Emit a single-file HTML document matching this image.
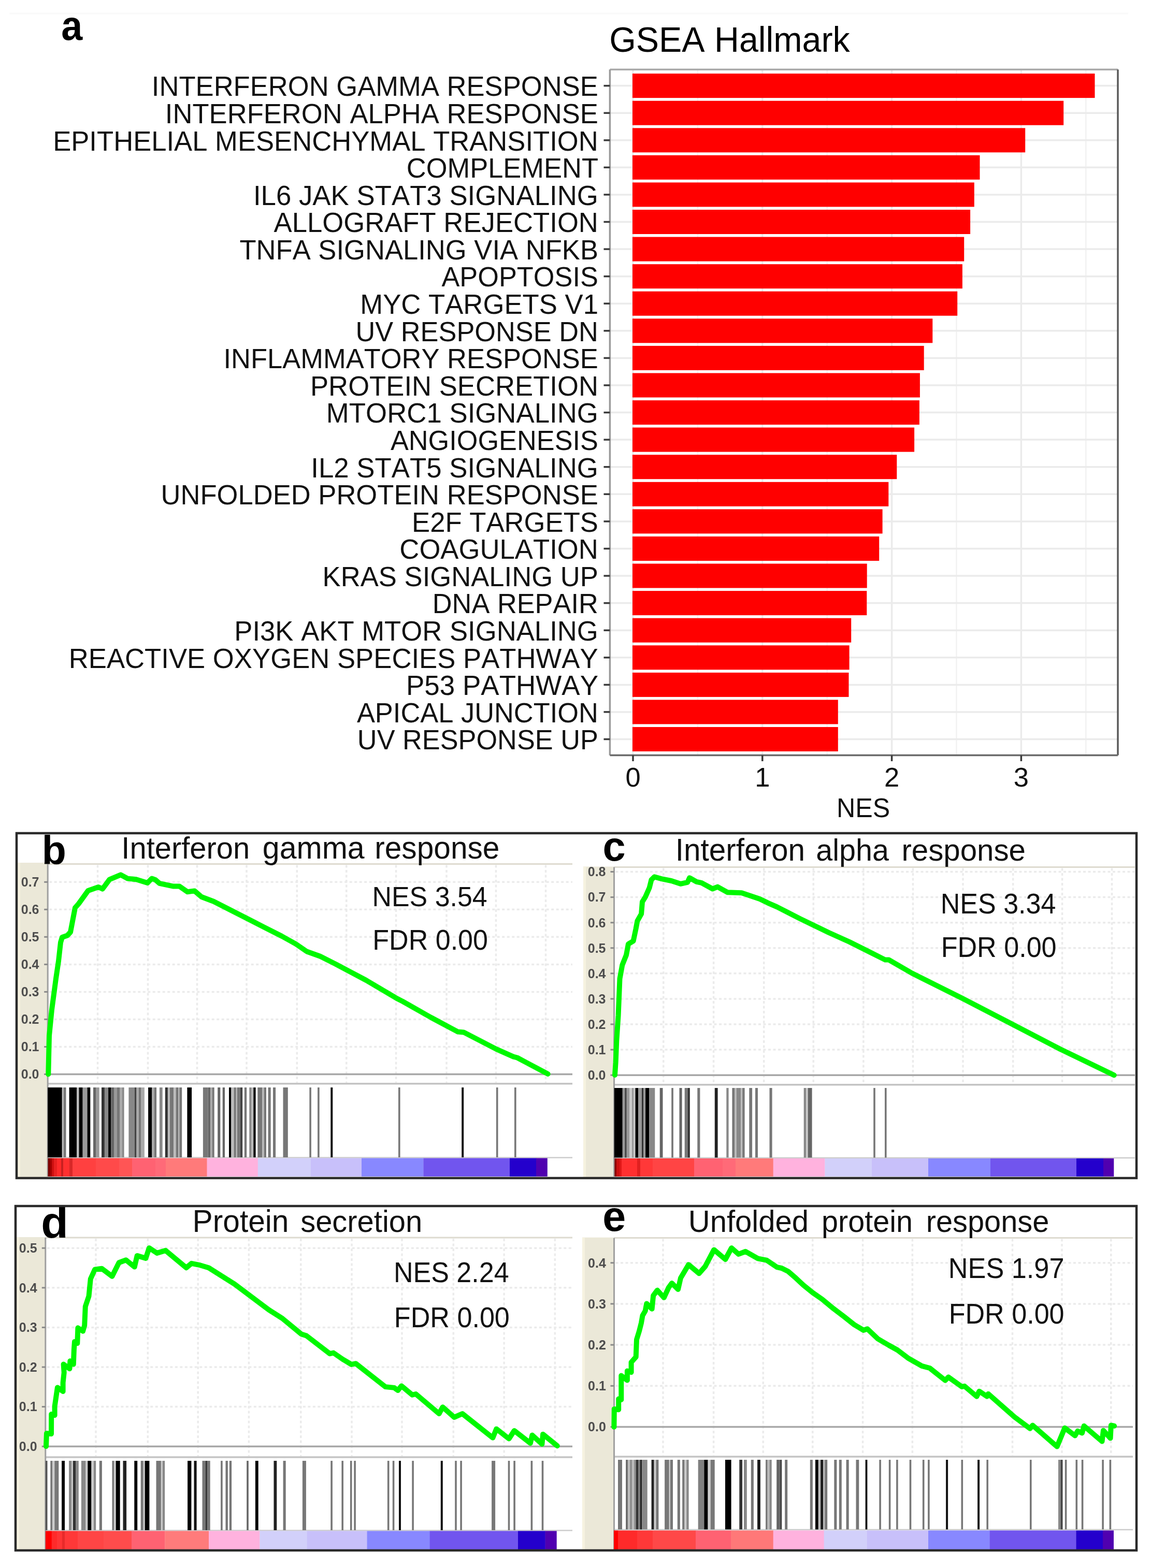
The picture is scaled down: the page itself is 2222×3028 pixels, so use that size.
<!DOCTYPE html>
<html><head><meta charset="utf-8"><title>GSEA Hallmark</title>
<style>
html,body{margin:0;padding:0;background:#fff;}
body{width:2222px;height:3028px;overflow:hidden;}
svg{display:block;font-family:'Liberation Sans', Arial, sans-serif;font-kerning:none;}
</style></head><body>
<svg width="2222" height="3028" viewBox="0 0 2222 3028">
<rect x="0" y="0" width="2222" height="3028" fill="#ffffff"/>
<rect x="18" y="24.5" width="2160" height="3.5" fill="#fafafa"/>
<line x1="1346.9" y1="134.2" x2="1346.9" y2="1458.6" stroke="#f2f2f2" stroke-width="2.5"/>
<line x1="1596.7" y1="134.2" x2="1596.7" y2="1458.6" stroke="#f2f2f2" stroke-width="2.5"/>
<line x1="1846.5" y1="134.2" x2="1846.5" y2="1458.6" stroke="#f2f2f2" stroke-width="2.5"/>
<line x1="2096.3" y1="134.2" x2="2096.3" y2="1458.6" stroke="#f2f2f2" stroke-width="2.5"/>
<line x1="1222.0" y1="134.2" x2="1222.0" y2="1458.6" stroke="#ebebeb" stroke-width="3.5"/>
<line x1="1471.8" y1="134.2" x2="1471.8" y2="1458.6" stroke="#ebebeb" stroke-width="3.5"/>
<line x1="1721.6" y1="134.2" x2="1721.6" y2="1458.6" stroke="#ebebeb" stroke-width="3.5"/>
<line x1="1971.4" y1="134.2" x2="1971.4" y2="1458.6" stroke="#ebebeb" stroke-width="3.5"/>
<line x1="1177.4" y1="165.6" x2="2158.0" y2="165.6" stroke="#ebebeb" stroke-width="3.5"/>
<line x1="1177.4" y1="218.2" x2="2158.0" y2="218.2" stroke="#ebebeb" stroke-width="3.5"/>
<line x1="1177.4" y1="270.8" x2="2158.0" y2="270.8" stroke="#ebebeb" stroke-width="3.5"/>
<line x1="1177.4" y1="323.3" x2="2158.0" y2="323.3" stroke="#ebebeb" stroke-width="3.5"/>
<line x1="1177.4" y1="375.9" x2="2158.0" y2="375.9" stroke="#ebebeb" stroke-width="3.5"/>
<line x1="1177.4" y1="428.5" x2="2158.0" y2="428.5" stroke="#ebebeb" stroke-width="3.5"/>
<line x1="1177.4" y1="481.1" x2="2158.0" y2="481.1" stroke="#ebebeb" stroke-width="3.5"/>
<line x1="1177.4" y1="533.7" x2="2158.0" y2="533.7" stroke="#ebebeb" stroke-width="3.5"/>
<line x1="1177.4" y1="586.2" x2="2158.0" y2="586.2" stroke="#ebebeb" stroke-width="3.5"/>
<line x1="1177.4" y1="638.8" x2="2158.0" y2="638.8" stroke="#ebebeb" stroke-width="3.5"/>
<line x1="1177.4" y1="691.4" x2="2158.0" y2="691.4" stroke="#ebebeb" stroke-width="3.5"/>
<line x1="1177.4" y1="744.0" x2="2158.0" y2="744.0" stroke="#ebebeb" stroke-width="3.5"/>
<line x1="1177.4" y1="796.6" x2="2158.0" y2="796.6" stroke="#ebebeb" stroke-width="3.5"/>
<line x1="1177.4" y1="849.1" x2="2158.0" y2="849.1" stroke="#ebebeb" stroke-width="3.5"/>
<line x1="1177.4" y1="901.7" x2="2158.0" y2="901.7" stroke="#ebebeb" stroke-width="3.5"/>
<line x1="1177.4" y1="954.3" x2="2158.0" y2="954.3" stroke="#ebebeb" stroke-width="3.5"/>
<line x1="1177.4" y1="1006.9" x2="2158.0" y2="1006.9" stroke="#ebebeb" stroke-width="3.5"/>
<line x1="1177.4" y1="1059.5" x2="2158.0" y2="1059.5" stroke="#ebebeb" stroke-width="3.5"/>
<line x1="1177.4" y1="1112.0" x2="2158.0" y2="1112.0" stroke="#ebebeb" stroke-width="3.5"/>
<line x1="1177.4" y1="1164.6" x2="2158.0" y2="1164.6" stroke="#ebebeb" stroke-width="3.5"/>
<line x1="1177.4" y1="1217.2" x2="2158.0" y2="1217.2" stroke="#ebebeb" stroke-width="3.5"/>
<line x1="1177.4" y1="1269.8" x2="2158.0" y2="1269.8" stroke="#ebebeb" stroke-width="3.5"/>
<line x1="1177.4" y1="1322.4" x2="2158.0" y2="1322.4" stroke="#ebebeb" stroke-width="3.5"/>
<line x1="1177.4" y1="1374.9" x2="2158.0" y2="1374.9" stroke="#ebebeb" stroke-width="3.5"/>
<line x1="1177.4" y1="1427.5" x2="2158.0" y2="1427.5" stroke="#ebebeb" stroke-width="3.5"/>
<rect x="1221" y="142.1" width="892.5" height="47.0" fill="#ff0000"/>
<rect x="1221" y="194.7" width="832.2" height="47.0" fill="#ff0000"/>
<rect x="1221" y="247.3" width="758.2" height="47.0" fill="#ff0000"/>
<rect x="1221" y="299.8" width="670.5" height="47.0" fill="#ff0000"/>
<rect x="1221" y="352.4" width="659.8" height="47.0" fill="#ff0000"/>
<rect x="1221" y="405.0" width="652.1" height="47.0" fill="#ff0000"/>
<rect x="1221" y="457.6" width="640.2" height="47.0" fill="#ff0000"/>
<rect x="1221" y="510.2" width="636.9" height="47.0" fill="#ff0000"/>
<rect x="1221" y="562.7" width="627.2" height="47.0" fill="#ff0000"/>
<rect x="1221" y="615.3" width="579.3" height="47.0" fill="#ff0000"/>
<rect x="1221" y="667.9" width="562.7" height="47.0" fill="#ff0000"/>
<rect x="1221" y="720.5" width="554.9" height="47.0" fill="#ff0000"/>
<rect x="1221" y="773.1" width="553.9" height="47.0" fill="#ff0000"/>
<rect x="1221" y="825.6" width="544.1" height="47.0" fill="#ff0000"/>
<rect x="1221" y="878.2" width="510.3" height="47.0" fill="#ff0000"/>
<rect x="1221" y="930.8" width="494.3" height="47.0" fill="#ff0000"/>
<rect x="1221" y="983.4" width="482.6" height="47.0" fill="#ff0000"/>
<rect x="1221" y="1036.0" width="476.2" height="47.0" fill="#ff0000"/>
<rect x="1221" y="1088.5" width="452.7" height="47.0" fill="#ff0000"/>
<rect x="1221" y="1141.1" width="452.3" height="47.0" fill="#ff0000"/>
<rect x="1221" y="1193.7" width="422.2" height="47.0" fill="#ff0000"/>
<rect x="1221" y="1246.3" width="418.6" height="47.0" fill="#ff0000"/>
<rect x="1221" y="1298.9" width="417.5" height="47.0" fill="#ff0000"/>
<rect x="1221" y="1351.4" width="396.8" height="47.0" fill="#ff0000"/>
<rect x="1221" y="1404.0" width="396.8" height="47.0" fill="#ff0000"/>
<line x1="1177.4" y1="134.2" x2="2158.0" y2="134.2" stroke="#aaaaaa" stroke-width="3.5"/>
<line x1="1177.4" y1="134.2" x2="1177.4" y2="1458.6" stroke="#9a9a9a" stroke-width="3.5"/>
<line x1="2158.0" y1="134.2" x2="2158.0" y2="1458.6" stroke="#5a5a5a" stroke-width="3.5"/>
<line x1="1177.4" y1="1458.6" x2="2158.0" y2="1458.6" stroke="#6a6a6a" stroke-width="3.5"/>
<line x1="1165.5" y1="165.6" x2="1177.4" y2="165.6" stroke="#3a3a3a" stroke-width="3.5"/>
<text transform="translate(292.85,185.40) scale(0.9756,1)" font-size="53.92" fill="#111">INTERFERON GAMMA RESPONSE</text>
<line x1="1165.5" y1="218.2" x2="1177.4" y2="218.2" stroke="#3a3a3a" stroke-width="3.5"/>
<text transform="translate(318.84,237.98) scale(0.9756,1)" font-size="53.93" fill="#111">INTERFERON ALPHA RESPONSE</text>
<line x1="1165.5" y1="270.8" x2="1177.4" y2="270.8" stroke="#3a3a3a" stroke-width="3.5"/>
<text transform="translate(102.18,290.56) scale(0.9756,1)" font-size="53.95" fill="#111">EPITHELIAL MESENCHYMAL TRANSITION</text>
<line x1="1165.5" y1="323.3" x2="1177.4" y2="323.3" stroke="#3a3a3a" stroke-width="3.5"/>
<text transform="translate(784.74,343.14) scale(0.9756,1)" font-size="53.79" fill="#111">COMPLEMENT</text>
<line x1="1165.5" y1="375.9" x2="1177.4" y2="375.9" stroke="#3a3a3a" stroke-width="3.5"/>
<text transform="translate(488.93,395.72) scale(0.9756,1)" font-size="54.12" fill="#111">IL6 JAK STAT3 SIGNALING</text>
<line x1="1165.5" y1="428.5" x2="1177.4" y2="428.5" stroke="#3a3a3a" stroke-width="3.5"/>
<text transform="translate(528.50,448.30) scale(0.9756,1)" font-size="54.01" fill="#111">ALLOGRAFT REJECTION</text>
<line x1="1165.5" y1="481.1" x2="1177.4" y2="481.1" stroke="#3a3a3a" stroke-width="3.5"/>
<text transform="translate(462.42,500.88) scale(0.9756,1)" font-size="53.91" fill="#111">TNFA SIGNALING VIA NFKB</text>
<line x1="1165.5" y1="533.7" x2="1177.4" y2="533.7" stroke="#3a3a3a" stroke-width="3.5"/>
<text transform="translate(852.40,553.46) scale(0.9756,1)" font-size="53.67" fill="#111">APOPTOSIS</text>
<line x1="1165.5" y1="586.2" x2="1177.4" y2="586.2" stroke="#3a3a3a" stroke-width="3.5"/>
<text transform="translate(695.28,606.04) scale(0.9756,1)" font-size="54.02" fill="#111">MYC TARGETS V1</text>
<line x1="1165.5" y1="638.8" x2="1177.4" y2="638.8" stroke="#3a3a3a" stroke-width="3.5"/>
<text transform="translate(686.56,658.62) scale(0.9756,1)" font-size="53.67" fill="#111">UV RESPONSE DN</text>
<line x1="1165.5" y1="691.4" x2="1177.4" y2="691.4" stroke="#3a3a3a" stroke-width="3.5"/>
<text transform="translate(431.45,711.20) scale(0.9756,1)" font-size="53.82" fill="#111">INFLAMMATORY RESPONSE</text>
<line x1="1165.5" y1="744.0" x2="1177.4" y2="744.0" stroke="#3a3a3a" stroke-width="3.5"/>
<text transform="translate(598.98,763.78) scale(0.9756,1)" font-size="53.99" fill="#111">PROTEIN SECRETION</text>
<line x1="1165.5" y1="796.6" x2="1177.4" y2="796.6" stroke="#3a3a3a" stroke-width="3.5"/>
<text transform="translate(629.87,816.36) scale(0.9756,1)" font-size="54.12" fill="#111">MTORC1 SIGNALING</text>
<line x1="1165.5" y1="849.1" x2="1177.4" y2="849.1" stroke="#3a3a3a" stroke-width="3.5"/>
<text transform="translate(753.90,868.94) scale(0.9756,1)" font-size="53.61" fill="#111">ANGIOGENESIS</text>
<line x1="1165.5" y1="901.7" x2="1177.4" y2="901.7" stroke="#3a3a3a" stroke-width="3.5"/>
<text transform="translate(600.23,921.52) scale(0.9756,1)" font-size="54.14" fill="#111">IL2 STAT5 SIGNALING</text>
<line x1="1165.5" y1="954.3" x2="1177.4" y2="954.3" stroke="#3a3a3a" stroke-width="3.5"/>
<text transform="translate(310.44,974.10) scale(0.9756,1)" font-size="53.91" fill="#111">UNFOLDED PROTEIN RESPONSE</text>
<line x1="1165.5" y1="1006.9" x2="1177.4" y2="1006.9" stroke="#3a3a3a" stroke-width="3.5"/>
<text transform="translate(795.08,1026.68) scale(0.9756,1)" font-size="53.98" fill="#111">E2F TARGETS</text>
<line x1="1165.5" y1="1059.5" x2="1177.4" y2="1059.5" stroke="#3a3a3a" stroke-width="3.5"/>
<text transform="translate(771.32,1079.26) scale(0.9756,1)" font-size="54.03" fill="#111">COAGULATION</text>
<line x1="1165.5" y1="1112.0" x2="1177.4" y2="1112.0" stroke="#3a3a3a" stroke-width="3.5"/>
<text transform="translate(622.58,1131.84) scale(0.9756,1)" font-size="53.96" fill="#111">KRAS SIGNALING UP</text>
<line x1="1165.5" y1="1164.6" x2="1177.4" y2="1164.6" stroke="#3a3a3a" stroke-width="3.5"/>
<text transform="translate(834.80,1184.42) scale(0.9756,1)" font-size="53.69" fill="#111">DNA REPAIR</text>
<line x1="1165.5" y1="1217.2" x2="1177.4" y2="1217.2" stroke="#3a3a3a" stroke-width="3.5"/>
<text transform="translate(452.28,1237.00) scale(0.9756,1)" font-size="54.01" fill="#111">PI3K AKT MTOR SIGNALING</text>
<line x1="1165.5" y1="1269.8" x2="1177.4" y2="1269.8" stroke="#3a3a3a" stroke-width="3.5"/>
<text transform="translate(132.68,1289.58) scale(0.9756,1)" font-size="54.03" fill="#111">REACTIVE OXYGEN SPECIES PATHWAY</text>
<line x1="1165.5" y1="1322.4" x2="1177.4" y2="1322.4" stroke="#3a3a3a" stroke-width="3.5"/>
<text transform="translate(783.95,1342.16) scale(0.9756,1)" font-size="54.32" fill="#111">P53 PATHWAY</text>
<line x1="1165.5" y1="1374.9" x2="1177.4" y2="1374.9" stroke="#3a3a3a" stroke-width="3.5"/>
<text transform="translate(688.90,1394.74) scale(0.9756,1)" font-size="53.74" fill="#111">APICAL JUNCTION</text>
<line x1="1165.5" y1="1427.5" x2="1177.4" y2="1427.5" stroke="#3a3a3a" stroke-width="3.5"/>
<text transform="translate(689.86,1447.32) scale(0.9756,1)" font-size="53.62" fill="#111">UV RESPONSE UP</text>
<line x1="1222.0" y1="1458.6" x2="1222.0" y2="1470" stroke="#3a3a3a" stroke-width="3.5"/>
<text x="1222.0" y="1519" text-anchor="middle" font-size="52.5" fill="#111">0</text>
<line x1="1471.8" y1="1458.6" x2="1471.8" y2="1470" stroke="#3a3a3a" stroke-width="3.5"/>
<text x="1471.8" y="1519" text-anchor="middle" font-size="52.5" fill="#111">1</text>
<line x1="1721.6" y1="1458.6" x2="1721.6" y2="1470" stroke="#3a3a3a" stroke-width="3.5"/>
<text x="1721.6" y="1519" text-anchor="middle" font-size="52.5" fill="#111">2</text>
<line x1="1971.4" y1="1458.6" x2="1971.4" y2="1470" stroke="#3a3a3a" stroke-width="3.5"/>
<text x="1971.4" y="1519" text-anchor="middle" font-size="52.5" fill="#111">3</text>
<text transform="translate(1615.08,1578.30) scale(0.9709,1)" font-size="51.71" fill="#111">NES</text>
<text transform="translate(1176.16,99.80) scale(0.9709,1)" font-size="68.35" fill="#000">GSEA Hallmark</text>
<text transform="translate(118.14,76.60) scale(0.9213,1)" font-size="80.00" font-weight="bold" fill="#000">a</text>
<rect x="34" y="1666" width="58" height="607" fill="#ebe8d8"/>
<rect x="34" y="1666" width="5" height="607" fill="#f6f2e0"/>
<rect x="92.2" y="1668.5" width="1012.8" height="603.5" fill="#ffffff"/>
<line x1="188.5" y1="1670.5" x2="188.5" y2="2090.8" stroke="#ebebeb" stroke-width="3.5" stroke-dasharray="5 4.5"/>
<line x1="285.5" y1="1670.5" x2="285.5" y2="2090.8" stroke="#ebebeb" stroke-width="3.5" stroke-dasharray="5 4.5"/>
<line x1="380.5" y1="1670.5" x2="380.5" y2="2090.8" stroke="#ebebeb" stroke-width="3.5" stroke-dasharray="5 4.5"/>
<line x1="476" y1="1670.5" x2="476" y2="2090.8" stroke="#ebebeb" stroke-width="3.5" stroke-dasharray="5 4.5"/>
<line x1="573.3" y1="1670.5" x2="573.3" y2="2090.8" stroke="#ebebeb" stroke-width="3.5" stroke-dasharray="5 4.5"/>
<line x1="668.8" y1="1670.5" x2="668.8" y2="2090.8" stroke="#ebebeb" stroke-width="3.5" stroke-dasharray="5 4.5"/>
<line x1="764.5" y1="1670.5" x2="764.5" y2="2090.8" stroke="#ebebeb" stroke-width="3.5" stroke-dasharray="5 4.5"/>
<line x1="862" y1="1670.5" x2="862" y2="2090.8" stroke="#ebebeb" stroke-width="3.5" stroke-dasharray="5 4.5"/>
<line x1="957.5" y1="1670.5" x2="957.5" y2="2090.8" stroke="#ebebeb" stroke-width="3.5" stroke-dasharray="5 4.5"/>
<line x1="1053.5" y1="1670.5" x2="1053.5" y2="2090.8" stroke="#ebebeb" stroke-width="3.5" stroke-dasharray="5 4.5"/>
<line x1="95.2" y1="2021.5" x2="1105" y2="2021.5" stroke="#ebebeb" stroke-width="3.5" stroke-dasharray="5 4.5"/>
<line x1="95.2" y1="1968.4" x2="1105" y2="1968.4" stroke="#ebebeb" stroke-width="3.5" stroke-dasharray="5 4.5"/>
<line x1="95.2" y1="1915.4" x2="1105" y2="1915.4" stroke="#ebebeb" stroke-width="3.5" stroke-dasharray="5 4.5"/>
<line x1="95.2" y1="1862.4" x2="1105" y2="1862.4" stroke="#ebebeb" stroke-width="3.5" stroke-dasharray="5 4.5"/>
<line x1="95.2" y1="1809.3" x2="1105" y2="1809.3" stroke="#ebebeb" stroke-width="3.5" stroke-dasharray="5 4.5"/>
<line x1="95.2" y1="1756.3" x2="1105" y2="1756.3" stroke="#ebebeb" stroke-width="3.5" stroke-dasharray="5 4.5"/>
<line x1="95.2" y1="1703.3" x2="1105" y2="1703.3" stroke="#ebebeb" stroke-width="3.5" stroke-dasharray="5 4.5"/>
<line x1="92.2" y1="1668.5" x2="1105" y2="1668.5" stroke="#dedbd0" stroke-width="3"/>
<line x1="92.2" y1="2074.5" x2="1105" y2="2074.5" stroke="#a8a8a8" stroke-width="3.5"/>
<line x1="92.2" y1="2092.8" x2="1105" y2="2092.8" stroke="#c4c4c4" stroke-width="3.5"/>
<line x1="92.2" y1="2235.5" x2="1105" y2="2235.5" stroke="#cccccc" stroke-width="2.5"/>
<line x1="92.2" y1="1668.5" x2="92.2" y2="2272" stroke="#a0a0a0" stroke-width="3"/>
<line x1="85.2" y1="2074.5" x2="92.2" y2="2074.5" stroke="#8a8a8a" stroke-width="3"/>
<text x="75.5" y="2083.3" text-anchor="end" font-size="25" font-weight="bold" fill="#4d4d4d">0.0</text>
<line x1="85.2" y1="2021.5" x2="92.2" y2="2021.5" stroke="#8a8a8a" stroke-width="3"/>
<text x="75.5" y="2030.3" text-anchor="end" font-size="25" font-weight="bold" fill="#4d4d4d">0.1</text>
<line x1="85.2" y1="1968.4" x2="92.2" y2="1968.4" stroke="#8a8a8a" stroke-width="3"/>
<text x="75.5" y="1977.2" text-anchor="end" font-size="25" font-weight="bold" fill="#4d4d4d">0.2</text>
<line x1="85.2" y1="1915.4" x2="92.2" y2="1915.4" stroke="#8a8a8a" stroke-width="3"/>
<text x="75.5" y="1924.2" text-anchor="end" font-size="25" font-weight="bold" fill="#4d4d4d">0.3</text>
<line x1="85.2" y1="1862.4" x2="92.2" y2="1862.4" stroke="#8a8a8a" stroke-width="3"/>
<text x="75.5" y="1871.2" text-anchor="end" font-size="25" font-weight="bold" fill="#4d4d4d">0.4</text>
<line x1="85.2" y1="1809.3" x2="92.2" y2="1809.3" stroke="#8a8a8a" stroke-width="3"/>
<text x="75.5" y="1818.1" text-anchor="end" font-size="25" font-weight="bold" fill="#4d4d4d">0.5</text>
<line x1="85.2" y1="1756.3" x2="92.2" y2="1756.3" stroke="#8a8a8a" stroke-width="3"/>
<text x="75.5" y="1765.1" text-anchor="end" font-size="25" font-weight="bold" fill="#4d4d4d">0.6</text>
<line x1="85.2" y1="1703.3" x2="92.2" y2="1703.3" stroke="#8a8a8a" stroke-width="3"/>
<text x="75.5" y="1712.1" text-anchor="end" font-size="25" font-weight="bold" fill="#4d4d4d">0.7</text>
<rect x="92.2" y="2100" width="27.6" height="135" fill="#000"/>
<rect x="119.8" y="2100" width="2.9" height="135" fill="#bbb"/>
<rect x="122.7" y="2100" width="4.8" height="135" fill="#777"/>
<rect x="133.6" y="2100" width="14.5" height="135" fill="#000"/>
<rect x="148.1" y="2100" width="4.4" height="135" fill="#bbb"/>
<rect x="152.5" y="2100" width="7.2" height="135" fill="#000"/>
<rect x="159.7" y="2100" width="8.8" height="135" fill="#999"/>
<rect x="168.5" y="2100" width="5.8" height="135" fill="#000"/>
<rect x="180" y="2100" width="5.0" height="135" fill="#666"/>
<rect x="185" y="2100" width="6.7" height="135" fill="#999"/>
<rect x="196" y="2100" width="5.9" height="135" fill="#333"/>
<rect x="201.9" y="2100" width="7.2" height="135" fill="#888"/>
<rect x="209.1" y="2100" width="5.1" height="135" fill="#000"/>
<rect x="214.2" y="2100" width="5.8" height="135" fill="#666"/>
<rect x="220" y="2100" width="6.0" height="135" fill="#999"/>
<rect x="226" y="2100" width="5.0" height="135" fill="#777"/>
<rect x="231" y="2100" width="5.0" height="135" fill="#aaa"/>
<rect x="236" y="2100" width="3.6" height="135" fill="#888"/>
<rect x="248.4" y="2100" width="11.6" height="135" fill="#888"/>
<rect x="260" y="2100" width="3.6" height="135" fill="#444"/>
<rect x="263.6" y="2100" width="4.4" height="135" fill="#aaa"/>
<rect x="268" y="2100" width="4.0" height="135" fill="#777"/>
<rect x="272" y="2100" width="6.9" height="135" fill="#aaa"/>
<rect x="286.1" y="2100" width="7.3" height="135" fill="#000"/>
<rect x="293.4" y="2100" width="4.1" height="135" fill="#aaa"/>
<rect x="297.5" y="2100" width="4.6" height="135" fill="#777"/>
<rect x="307.9" y="2100" width="5.8" height="135" fill="#888"/>
<rect x="318.8" y="2100" width="5.1" height="135" fill="#333"/>
<rect x="323.9" y="2100" width="4.1" height="135" fill="#bbb"/>
<rect x="328" y="2100" width="7.3" height="135" fill="#777"/>
<rect x="335.3" y="2100" width="4.3" height="135" fill="#bbb"/>
<rect x="339.6" y="2100" width="5.1" height="135" fill="#777"/>
<rect x="344.7" y="2100" width="1.5" height="135" fill="#ccc"/>
<rect x="346.2" y="2100" width="5.0" height="135" fill="#777"/>
<rect x="361.4" y="2100" width="8.7" height="135" fill="#000"/>
<rect x="391.9" y="2100" width="9.5" height="135" fill="#777"/>
<rect x="401.4" y="2100" width="5.0" height="135" fill="#666"/>
<rect x="406.4" y="2100" width="3.0" height="135" fill="#aaa"/>
<rect x="409.4" y="2100" width="4.3" height="135" fill="#777"/>
<rect x="420.2" y="2100" width="5.1" height="135" fill="#666"/>
<rect x="429.7" y="2100" width="4.3" height="135" fill="#666"/>
<rect x="442" y="2100" width="4.4" height="135" fill="#000"/>
<rect x="446.4" y="2100" width="5.1" height="135" fill="#bbb"/>
<rect x="451.5" y="2100" width="4.3" height="135" fill="#777"/>
<rect x="455.8" y="2100" width="2.2" height="135" fill="#bbb"/>
<rect x="458" y="2100" width="5.8" height="135" fill="#777"/>
<rect x="463.8" y="2100" width="4.4" height="135" fill="#444"/>
<rect x="471.8" y="2100" width="4.4" height="135" fill="#777"/>
<rect x="481.3" y="2100" width="4.3" height="135" fill="#888"/>
<rect x="485.6" y="2100" width="3.7" height="135" fill="#bbb"/>
<rect x="489.3" y="2100" width="4.3" height="135" fill="#000"/>
<rect x="497.3" y="2100" width="8.7" height="135" fill="#777"/>
<rect x="506" y="2100" width="3.6" height="135" fill="#bbb"/>
<rect x="509.6" y="2100" width="4.4" height="135" fill="#777"/>
<rect x="517.6" y="2100" width="5.1" height="135" fill="#777"/>
<rect x="527" y="2100" width="5.1" height="135" fill="#777"/>
<rect x="546.5" y="2100" width="9.3" height="135" fill="#777"/>
<rect x="597.3" y="2100" width="3.6" height="135" fill="#777"/>
<rect x="613.1" y="2100" width="3.6" height="135" fill="#777"/>
<rect x="638.3" y="2100" width="4.0" height="135" fill="#111"/>
<rect x="769" y="2100" width="3.6" height="135" fill="#777"/>
<rect x="891.2" y="2100" width="4.0" height="135" fill="#111"/>
<rect x="957.9" y="2100" width="3.6" height="135" fill="#777"/>
<rect x="993" y="2100" width="3.6" height="135" fill="#777"/>
<rect x="92.6" y="2236.5" width="3.7" height="35.5" fill="#7a0000"/>
<rect x="96" y="2236.5" width="4.3" height="35.5" fill="#a00000"/>
<rect x="100" y="2236.5" width="4.3" height="35.5" fill="#cc1010"/>
<rect x="104" y="2236.5" width="6.3" height="35.5" fill="#e82020"/>
<rect x="110" y="2236.5" width="8.3" height="35.5" fill="#ff2a2a"/>
<rect x="118" y="2236.5" width="4.3" height="35.5" fill="#c82020"/>
<rect x="122" y="2236.5" width="12.3" height="35.5" fill="#ff3030"/>
<rect x="134" y="2236.5" width="6.3" height="35.5" fill="#d82828"/>
<rect x="140" y="2236.5" width="45.3" height="35.5" fill="#ff4040"/>
<rect x="185" y="2236.5" width="45.3" height="35.5" fill="#ff4a4a"/>
<rect x="230" y="2236.5" width="25.3" height="35.5" fill="#ff5555"/>
<rect x="255" y="2236.5" width="45.3" height="35.5" fill="#ff6272"/>
<rect x="300" y="2236.5" width="20.3" height="35.5" fill="#ff6a78"/>
<rect x="320" y="2236.5" width="79.9" height="35.5" fill="#ff7a7a"/>
<rect x="399.6" y="2236.5" width="98.5" height="35.5" fill="#ffb2de"/>
<rect x="497.8" y="2236.5" width="102.5" height="35.5" fill="#d2d0fa"/>
<rect x="600" y="2236.5" width="98.3" height="35.5" fill="#c8c0fa"/>
<rect x="698" y="2236.5" width="119.7" height="35.5" fill="#8888ff"/>
<rect x="817.4" y="2236.5" width="166.9" height="35.5" fill="#7155ee"/>
<rect x="984" y="2236.5" width="51.3" height="35.5" fill="#2400cc"/>
<rect x="1035" y="2236.5" width="21.8" height="35.5" fill="#5000b0"/>
<polyline points="93.3,2074.5 95.0,2000.0 100.0,1949.6 108.0,1889.7 113.0,1856.0 117.0,1820.0 120.0,1810.0 130.0,1806.5 136.0,1800.0 145.0,1753.0 152.0,1745.0 170.0,1720.0 190.0,1713.0 198.0,1716.6 211.5,1698.3 233.0,1689.3 246.4,1696.6 263.0,1698.3 284.7,1705.0 293.0,1696.6 300.0,1699.0 307.7,1705.8 334.9,1711.6 346.5,1711.6 362.0,1722.3 375.5,1720.4 389.1,1732.0 412.3,1740.7 493.7,1782.3 544.3,1808.0 571.2,1823.0 592.3,1837.5 618.2,1846.8 647.7,1861.6 706.8,1893.0 765.9,1928.0 777.0,1933.6 832.3,1965.0 884.0,1992.6 895.1,1993.4 957.9,2025.9 991.1,2040.6 998.5,2042.5 1057.6,2073.9" fill="none" stroke="#00f800" stroke-width="10" stroke-linejoin="round" stroke-linecap="round"/>
<text transform="translate(80.82,1668.50) scale(1.0000,1)" font-size="77.00" font-weight="bold" fill="#000">b</text>
<text transform="translate(234.36,1658.30) scale(0.9709,1)" font-size="59.63" fill="#111">Interferon</text>
<text transform="translate(506.82,1658.30) scale(0.9709,1)" font-size="60.81" fill="#111">gamma</text>
<text transform="translate(723.20,1658.30) scale(0.9709,1)" font-size="60.42" fill="#111">response</text>
<text transform="translate(718.54,1750.00) scale(0.9524,1)" font-size="54.50" fill="#111">NES 3.54</text>
<text transform="translate(719.33,1834.30) scale(0.9524,1)" font-size="54.64" fill="#111">FDR 0.00</text>
<rect x="1126" y="1673.5" width="59" height="599.5" fill="#ebe8d8"/>
<rect x="1126" y="1673.5" width="5" height="599.5" fill="#f6f2e0"/>
<rect x="1185.5" y="1674.5" width="1005.5" height="597.5" fill="#ffffff"/>
<line x1="1280.8" y1="1676.5" x2="1280.8" y2="2092.8" stroke="#ebebeb" stroke-width="3.5" stroke-dasharray="5 4.5"/>
<line x1="1377.6" y1="1676.5" x2="1377.6" y2="2092.8" stroke="#ebebeb" stroke-width="3.5" stroke-dasharray="5 4.5"/>
<line x1="1474.7" y1="1676.5" x2="1474.7" y2="2092.8" stroke="#ebebeb" stroke-width="3.5" stroke-dasharray="5 4.5"/>
<line x1="1570.2" y1="1676.5" x2="1570.2" y2="2092.8" stroke="#ebebeb" stroke-width="3.5" stroke-dasharray="5 4.5"/>
<line x1="1666.9" y1="1676.5" x2="1666.9" y2="2092.8" stroke="#ebebeb" stroke-width="3.5" stroke-dasharray="5 4.5"/>
<line x1="1762.5" y1="1676.5" x2="1762.5" y2="2092.8" stroke="#ebebeb" stroke-width="3.5" stroke-dasharray="5 4.5"/>
<line x1="1859" y1="1676.5" x2="1859" y2="2092.8" stroke="#ebebeb" stroke-width="3.5" stroke-dasharray="5 4.5"/>
<line x1="1955.7" y1="1676.5" x2="1955.7" y2="2092.8" stroke="#ebebeb" stroke-width="3.5" stroke-dasharray="5 4.5"/>
<line x1="2050.6" y1="1676.5" x2="2050.6" y2="2092.8" stroke="#ebebeb" stroke-width="3.5" stroke-dasharray="5 4.5"/>
<line x1="2146.5" y1="1676.5" x2="2146.5" y2="2092.8" stroke="#ebebeb" stroke-width="3.5" stroke-dasharray="5 4.5"/>
<line x1="1188.5" y1="2027.1" x2="2191" y2="2027.1" stroke="#ebebeb" stroke-width="3.5" stroke-dasharray="5 4.5"/>
<line x1="1188.5" y1="1978.0" x2="2191" y2="1978.0" stroke="#ebebeb" stroke-width="3.5" stroke-dasharray="5 4.5"/>
<line x1="1188.5" y1="1928.9" x2="2191" y2="1928.9" stroke="#ebebeb" stroke-width="3.5" stroke-dasharray="5 4.5"/>
<line x1="1188.5" y1="1879.8" x2="2191" y2="1879.8" stroke="#ebebeb" stroke-width="3.5" stroke-dasharray="5 4.5"/>
<line x1="1188.5" y1="1830.7" x2="2191" y2="1830.7" stroke="#ebebeb" stroke-width="3.5" stroke-dasharray="5 4.5"/>
<line x1="1188.5" y1="1781.7" x2="2191" y2="1781.7" stroke="#ebebeb" stroke-width="3.5" stroke-dasharray="5 4.5"/>
<line x1="1188.5" y1="1732.6" x2="2191" y2="1732.6" stroke="#ebebeb" stroke-width="3.5" stroke-dasharray="5 4.5"/>
<line x1="1188.5" y1="1683.5" x2="2191" y2="1683.5" stroke="#ebebeb" stroke-width="3.5" stroke-dasharray="5 4.5"/>
<line x1="1185.5" y1="1674.5" x2="2191" y2="1674.5" stroke="#dedbd0" stroke-width="3"/>
<line x1="1185.5" y1="2076.2" x2="2191" y2="2076.2" stroke="#a8a8a8" stroke-width="3.5"/>
<line x1="1185.5" y1="2094.8" x2="2191" y2="2094.8" stroke="#c4c4c4" stroke-width="3.5"/>
<line x1="1185.5" y1="2236" x2="2191" y2="2236" stroke="#cccccc" stroke-width="2.5"/>
<line x1="1185.5" y1="1674.5" x2="1185.5" y2="2272" stroke="#a0a0a0" stroke-width="3"/>
<line x1="1178.5" y1="2076.2" x2="1185.5" y2="2076.2" stroke="#8a8a8a" stroke-width="3"/>
<text x="1169.5" y="2085.0" text-anchor="end" font-size="25" font-weight="bold" fill="#4d4d4d">0.0</text>
<line x1="1178.5" y1="2027.1" x2="1185.5" y2="2027.1" stroke="#8a8a8a" stroke-width="3"/>
<text x="1169.5" y="2035.9" text-anchor="end" font-size="25" font-weight="bold" fill="#4d4d4d">0.1</text>
<line x1="1178.5" y1="1978.0" x2="1185.5" y2="1978.0" stroke="#8a8a8a" stroke-width="3"/>
<text x="1169.5" y="1986.8" text-anchor="end" font-size="25" font-weight="bold" fill="#4d4d4d">0.2</text>
<line x1="1178.5" y1="1928.9" x2="1185.5" y2="1928.9" stroke="#8a8a8a" stroke-width="3"/>
<text x="1169.5" y="1937.7" text-anchor="end" font-size="25" font-weight="bold" fill="#4d4d4d">0.3</text>
<line x1="1178.5" y1="1879.8" x2="1185.5" y2="1879.8" stroke="#8a8a8a" stroke-width="3"/>
<text x="1169.5" y="1888.6" text-anchor="end" font-size="25" font-weight="bold" fill="#4d4d4d">0.4</text>
<line x1="1178.5" y1="1830.7" x2="1185.5" y2="1830.7" stroke="#8a8a8a" stroke-width="3"/>
<text x="1169.5" y="1839.5" text-anchor="end" font-size="25" font-weight="bold" fill="#4d4d4d">0.5</text>
<line x1="1178.5" y1="1781.7" x2="1185.5" y2="1781.7" stroke="#8a8a8a" stroke-width="3"/>
<text x="1169.5" y="1790.5" text-anchor="end" font-size="25" font-weight="bold" fill="#4d4d4d">0.6</text>
<line x1="1178.5" y1="1732.6" x2="1185.5" y2="1732.6" stroke="#8a8a8a" stroke-width="3"/>
<text x="1169.5" y="1741.4" text-anchor="end" font-size="25" font-weight="bold" fill="#4d4d4d">0.7</text>
<line x1="1178.5" y1="1683.5" x2="1185.5" y2="1683.5" stroke="#8a8a8a" stroke-width="3"/>
<text x="1169.5" y="1692.3" text-anchor="end" font-size="25" font-weight="bold" fill="#4d4d4d">0.8</text>
<rect x="1185.8" y="2101" width="16.0" height="134.5" fill="#000"/>
<rect x="1201.8" y="2101" width="4.4" height="134.5" fill="#999"/>
<rect x="1206.2" y="2101" width="3.6" height="134.5" fill="#444"/>
<rect x="1209.8" y="2101" width="5.8" height="134.5" fill="#999"/>
<rect x="1215.6" y="2101" width="4.4" height="134.5" fill="#ccc"/>
<rect x="1220" y="2101" width="3.6" height="134.5" fill="#999"/>
<rect x="1223.6" y="2101" width="2.9" height="134.5" fill="#ccc"/>
<rect x="1226.5" y="2101" width="5.8" height="134.5" fill="#000"/>
<rect x="1232.3" y="2101" width="6.5" height="134.5" fill="#999"/>
<rect x="1238.8" y="2101" width="3.7" height="134.5" fill="#333"/>
<rect x="1242.5" y="2101" width="3.6" height="134.5" fill="#999"/>
<rect x="1246.1" y="2101" width="7.3" height="134.5" fill="#000"/>
<rect x="1253.4" y="2101" width="10.9" height="134.5" fill="#888"/>
<rect x="1273.7" y="2101" width="5.8" height="134.5" fill="#666"/>
<rect x="1296.2" y="2101" width="3.7" height="134.5" fill="#777"/>
<rect x="1311.5" y="2101" width="5.1" height="134.5" fill="#666"/>
<rect x="1321.7" y="2101" width="5.8" height="134.5" fill="#777"/>
<rect x="1327.5" y="2101" width="4.3" height="134.5" fill="#333"/>
<rect x="1346.3" y="2101" width="5.1" height="134.5" fill="#777"/>
<rect x="1379.8" y="2101" width="5.8" height="134.5" fill="#222"/>
<rect x="1402.3" y="2101" width="4.3" height="134.5" fill="#888"/>
<rect x="1413.4" y="2101" width="4.6" height="134.5" fill="#777"/>
<rect x="1418" y="2101" width="3.6" height="134.5" fill="#bbb"/>
<rect x="1421.6" y="2101" width="8.7" height="134.5" fill="#888"/>
<rect x="1430.3" y="2101" width="2.9" height="134.5" fill="#bbb"/>
<rect x="1433.2" y="2101" width="4.4" height="134.5" fill="#777"/>
<rect x="1446.3" y="2101" width="5.8" height="134.5" fill="#777"/>
<rect x="1458" y="2101" width="5.0" height="134.5" fill="#777"/>
<rect x="1485.5" y="2101" width="5.1" height="134.5" fill="#777"/>
<rect x="1551.7" y="2101" width="4.3" height="134.5" fill="#888"/>
<rect x="1556" y="2101" width="3.6" height="134.5" fill="#ccc"/>
<rect x="1559.6" y="2101" width="8.0" height="134.5" fill="#666"/>
<rect x="1686.2" y="2101" width="3.6" height="134.5" fill="#777"/>
<rect x="1708" y="2101" width="3.6" height="134.5" fill="#777"/>
<rect x="1186.4" y="2237" width="3.9" height="35" fill="#8a0000"/>
<rect x="1190" y="2237" width="6.3" height="35" fill="#cc1010"/>
<rect x="1196" y="2237" width="4.3" height="35" fill="#e01818"/>
<rect x="1200" y="2237" width="30.3" height="35" fill="#ff3030"/>
<rect x="1230" y="2237" width="6.3" height="35" fill="#e02020"/>
<rect x="1236" y="2237" width="24.3" height="35" fill="#ff3838"/>
<rect x="1260" y="2237" width="80.3" height="35" fill="#ff4444"/>
<rect x="1340" y="2237" width="55.3" height="35" fill="#ff6272"/>
<rect x="1395" y="2237" width="25.3" height="35" fill="#ff6a78"/>
<rect x="1420" y="2237" width="73.0" height="35" fill="#ff7a7a"/>
<rect x="1492.7" y="2237" width="100.0" height="35" fill="#ffb2de"/>
<rect x="1592.4" y="2237" width="90.9" height="35" fill="#d2d0fa"/>
<rect x="1683" y="2237" width="109.3" height="35" fill="#c8c0fa"/>
<rect x="1792" y="2237" width="120.3" height="35" fill="#8888ff"/>
<rect x="1912" y="2237" width="166.3" height="35" fill="#7155ee"/>
<rect x="2078" y="2237" width="52.3" height="35" fill="#2400cc"/>
<rect x="2130" y="2237" width="20.3" height="35" fill="#5000b0"/>
<polyline points="1187.0,2076.0 1188.6,2052.0 1190.3,2009.8 1193.6,1960.8 1196.5,1890.0 1201.3,1863.7 1209.0,1844.3 1213.0,1823.0 1222.6,1817.2 1227.5,1794.0 1230.4,1778.5 1238.1,1764.9 1240.0,1741.7 1245.9,1732.0 1253.6,1714.6 1257.5,1699.0 1263.3,1693.2 1276.9,1697.1 1296.2,1701.0 1313.7,1706.8 1327.2,1703.9 1331.1,1695.2 1344.7,1702.9 1354.3,1704.9 1375.6,1716.5 1385.3,1712.6 1404.7,1723.3 1431.8,1724.2 1466.7,1735.9 1482.2,1743.6 1500.0,1751.4 1545.0,1774.4 1600.0,1801.0 1640.0,1819.0 1684.9,1841.5 1709.0,1853.6 1716.0,1853.6 1760.8,1879.5 1857.4,1927.8 1950.6,1976.0 2047.2,2026.2 2150.7,2076.2" fill="none" stroke="#00f800" stroke-width="10" stroke-linejoin="round" stroke-linecap="round"/>
<text transform="translate(1163.60,1661.80) scale(1.0000,1)" font-size="79.34" font-weight="bold" fill="#000">c</text>
<text transform="translate(1303.70,1661.50) scale(0.9709,1)" font-size="60.26" fill="#111">Interferon</text>
<text transform="translate(1575.26,1661.50) scale(0.9709,1)" font-size="59.20" fill="#111">alpha</text>
<text transform="translate(1740.43,1661.50) scale(0.9709,1)" font-size="59.98" fill="#111">response</text>
<text transform="translate(1815.83,1764.00) scale(0.9524,1)" font-size="54.60" fill="#111">NES 3.34</text>
<text transform="translate(1816.63,1848.30) scale(0.9524,1)" font-size="54.72" fill="#111">FDR 0.00</text>
<rect x="32" y="2389" width="55" height="604" fill="#ebe8d8"/>
<rect x="32" y="2389" width="5" height="604" fill="#f6f2e0"/>
<rect x="87.8" y="2390" width="1017.2" height="602" fill="#ffffff"/>
<line x1="185" y1="2392" x2="185" y2="2812" stroke="#ebebeb" stroke-width="3.5" stroke-dasharray="5 4.5"/>
<line x1="285.3" y1="2392" x2="285.3" y2="2812" stroke="#ebebeb" stroke-width="3.5" stroke-dasharray="5 4.5"/>
<line x1="382.2" y1="2392" x2="382.2" y2="2812" stroke="#ebebeb" stroke-width="3.5" stroke-dasharray="5 4.5"/>
<line x1="480.4" y1="2392" x2="480.4" y2="2812" stroke="#ebebeb" stroke-width="3.5" stroke-dasharray="5 4.5"/>
<line x1="580.8" y1="2392" x2="580.8" y2="2812" stroke="#ebebeb" stroke-width="3.5" stroke-dasharray="5 4.5"/>
<line x1="679" y1="2392" x2="679" y2="2812" stroke="#ebebeb" stroke-width="3.5" stroke-dasharray="5 4.5"/>
<line x1="776" y1="2392" x2="776" y2="2812" stroke="#ebebeb" stroke-width="3.5" stroke-dasharray="5 4.5"/>
<line x1="875.3" y1="2392" x2="875.3" y2="2812" stroke="#ebebeb" stroke-width="3.5" stroke-dasharray="5 4.5"/>
<line x1="973.1" y1="2392" x2="973.1" y2="2812" stroke="#ebebeb" stroke-width="3.5" stroke-dasharray="5 4.5"/>
<line x1="1071.3" y1="2392" x2="1071.3" y2="2812" stroke="#ebebeb" stroke-width="3.5" stroke-dasharray="5 4.5"/>
<line x1="90.8" y1="2716.6" x2="1105" y2="2716.6" stroke="#ebebeb" stroke-width="3.5" stroke-dasharray="5 4.5"/>
<line x1="90.8" y1="2640.0" x2="1105" y2="2640.0" stroke="#ebebeb" stroke-width="3.5" stroke-dasharray="5 4.5"/>
<line x1="90.8" y1="2563.4" x2="1105" y2="2563.4" stroke="#ebebeb" stroke-width="3.5" stroke-dasharray="5 4.5"/>
<line x1="90.8" y1="2486.8" x2="1105" y2="2486.8" stroke="#ebebeb" stroke-width="3.5" stroke-dasharray="5 4.5"/>
<line x1="90.8" y1="2410.2" x2="1105" y2="2410.2" stroke="#ebebeb" stroke-width="3.5" stroke-dasharray="5 4.5"/>
<line x1="87.8" y1="2390" x2="1105" y2="2390" stroke="#dedbd0" stroke-width="3"/>
<line x1="87.8" y1="2793.2" x2="1105" y2="2793.2" stroke="#a8a8a8" stroke-width="3.5"/>
<line x1="87.8" y1="2814" x2="1105" y2="2814" stroke="#c4c4c4" stroke-width="3.5"/>
<line x1="87.8" y1="2955.5" x2="1105" y2="2955.5" stroke="#cccccc" stroke-width="2.5"/>
<line x1="87.8" y1="2390" x2="87.8" y2="2992" stroke="#a0a0a0" stroke-width="3"/>
<line x1="80.8" y1="2793.2" x2="87.8" y2="2793.2" stroke="#8a8a8a" stroke-width="3"/>
<text x="71.6" y="2802.0" text-anchor="end" font-size="25" font-weight="bold" fill="#4d4d4d">0.0</text>
<line x1="80.8" y1="2716.6" x2="87.8" y2="2716.6" stroke="#8a8a8a" stroke-width="3"/>
<text x="71.6" y="2725.4" text-anchor="end" font-size="25" font-weight="bold" fill="#4d4d4d">0.1</text>
<line x1="80.8" y1="2640.0" x2="87.8" y2="2640.0" stroke="#8a8a8a" stroke-width="3"/>
<text x="71.6" y="2648.8" text-anchor="end" font-size="25" font-weight="bold" fill="#4d4d4d">0.2</text>
<line x1="80.8" y1="2563.4" x2="87.8" y2="2563.4" stroke="#8a8a8a" stroke-width="3"/>
<text x="71.6" y="2572.2" text-anchor="end" font-size="25" font-weight="bold" fill="#4d4d4d">0.3</text>
<line x1="80.8" y1="2486.8" x2="87.8" y2="2486.8" stroke="#8a8a8a" stroke-width="3"/>
<text x="71.6" y="2495.6" text-anchor="end" font-size="25" font-weight="bold" fill="#4d4d4d">0.4</text>
<line x1="80.8" y1="2410.2" x2="87.8" y2="2410.2" stroke="#8a8a8a" stroke-width="3"/>
<text x="71.6" y="2419.0" text-anchor="end" font-size="25" font-weight="bold" fill="#4d4d4d">0.5</text>
<rect x="87.9" y="2821" width="3.6" height="134" fill="#555"/>
<rect x="97.3" y="2821" width="3.7" height="134" fill="#777"/>
<rect x="101" y="2821" width="4.3" height="134" fill="#ccc"/>
<rect x="105.3" y="2821" width="8.0" height="134" fill="#777"/>
<rect x="119.1" y="2821" width="5.9" height="134" fill="#000"/>
<rect x="133" y="2821" width="5.0" height="134" fill="#888"/>
<rect x="138" y="2821" width="2.9" height="134" fill="#ccc"/>
<rect x="140.9" y="2821" width="5.1" height="134" fill="#333"/>
<rect x="146" y="2821" width="5.8" height="134" fill="#888"/>
<rect x="156.9" y="2821" width="8.7" height="134" fill="#888"/>
<rect x="165.6" y="2821" width="3.7" height="134" fill="#ccc"/>
<rect x="169.3" y="2821" width="7.2" height="134" fill="#000"/>
<rect x="176.5" y="2821" width="4.4" height="134" fill="#ccc"/>
<rect x="180.9" y="2821" width="4.3" height="134" fill="#888"/>
<rect x="191.8" y="2821" width="5.1" height="134" fill="#777"/>
<rect x="216.5" y="2821" width="3.6" height="134" fill="#777"/>
<rect x="220.1" y="2821" width="3.6" height="134" fill="#ccc"/>
<rect x="223.7" y="2821" width="8.0" height="134" fill="#000"/>
<rect x="237.5" y="2821" width="6.6" height="134" fill="#222"/>
<rect x="259.3" y="2821" width="5.9" height="134" fill="#000"/>
<rect x="271.7" y="2821" width="5.1" height="134" fill="#777"/>
<rect x="276.8" y="2821" width="2.9" height="134" fill="#ccc"/>
<rect x="279.7" y="2821" width="8.7" height="134" fill="#000"/>
<rect x="301.5" y="2821" width="9.4" height="134" fill="#777"/>
<rect x="310.9" y="2821" width="2.9" height="134" fill="#ccc"/>
<rect x="313.8" y="2821" width="4.4" height="134" fill="#888"/>
<rect x="362.1" y="2821" width="7.3" height="134" fill="#000"/>
<rect x="374.5" y="2821" width="5.1" height="134" fill="#111"/>
<rect x="390.5" y="2821" width="6.5" height="134" fill="#777"/>
<rect x="397" y="2821" width="2.9" height="134" fill="#333"/>
<rect x="399.9" y="2821" width="5.8" height="134" fill="#777"/>
<rect x="426.1" y="2821" width="3.6" height="134" fill="#777"/>
<rect x="435.5" y="2821" width="4.4" height="134" fill="#777"/>
<rect x="442.8" y="2821" width="4.3" height="134" fill="#777"/>
<rect x="476.2" y="2821" width="3.6" height="134" fill="#666"/>
<rect x="492.9" y="2821" width="5.8" height="134" fill="#000"/>
<rect x="528.5" y="2821" width="5.8" height="134" fill="#222"/>
<rect x="546.6" y="2821" width="5.1" height="134" fill="#777"/>
<rect x="583.9" y="2821" width="7.0" height="134" fill="#777"/>
<rect x="638.3" y="2821" width="3.6" height="134" fill="#777"/>
<rect x="659.4" y="2821" width="3.6" height="134" fill="#777"/>
<rect x="675.9" y="2821" width="3.6" height="134" fill="#777"/>
<rect x="683.3" y="2821" width="3.6" height="134" fill="#777"/>
<rect x="747.9" y="2821" width="3.6" height="134" fill="#777"/>
<rect x="757.8" y="2821" width="3.6" height="134" fill="#777"/>
<rect x="770" y="2821" width="4.0" height="134" fill="#111"/>
<rect x="795.3" y="2821" width="3.6" height="134" fill="#777"/>
<rect x="850.8" y="2821" width="4.0" height="134" fill="#111"/>
<rect x="878.2" y="2821" width="3.6" height="134" fill="#777"/>
<rect x="888.3" y="2821" width="3.6" height="134" fill="#777"/>
<rect x="949.1" y="2821" width="7.0" height="134" fill="#777"/>
<rect x="980.7" y="2821" width="3.6" height="134" fill="#777"/>
<rect x="991.3" y="2821" width="3.6" height="134" fill="#777"/>
<rect x="1024.6" y="2821" width="3.6" height="134" fill="#777"/>
<rect x="1045.7" y="2821" width="3.6" height="134" fill="#777"/>
<rect x="87.8" y="2956.5" width="12.2" height="35.5" fill="#ff0000"/>
<rect x="99.7" y="2956.5" width="10.6" height="35.5" fill="#ff2a2a"/>
<rect x="110" y="2956.5" width="10.3" height="35.5" fill="#ff3535"/>
<rect x="120" y="2956.5" width="5.3" height="35.5" fill="#e82a2a"/>
<rect x="125" y="2956.5" width="25.3" height="35.5" fill="#ff3838"/>
<rect x="150" y="2956.5" width="50.3" height="35.5" fill="#ff4545"/>
<rect x="200" y="2956.5" width="54.3" height="35.5" fill="#ff4c4c"/>
<rect x="254" y="2956.5" width="64.6" height="35.5" fill="#ff6272"/>
<rect x="318.3" y="2956.5" width="85.0" height="35.5" fill="#ff7b7b"/>
<rect x="403" y="2956.5" width="98.7" height="35.5" fill="#ffb2de"/>
<rect x="501.4" y="2956.5" width="91.6" height="35.5" fill="#d2d0fa"/>
<rect x="592.7" y="2956.5" width="116.1" height="35.5" fill="#c8c0fa"/>
<rect x="708.5" y="2956.5" width="121.5" height="35.5" fill="#8888ff"/>
<rect x="829.7" y="2956.5" width="170.6" height="35.5" fill="#7155ee"/>
<rect x="1000" y="2956.5" width="52.9" height="35.5" fill="#2400cc"/>
<rect x="1052.6" y="2956.5" width="22.1" height="35.5" fill="#5000b0"/>
<polyline points="89.0,2793.0 90.0,2768.0 99.0,2769.0 99.2,2731.0 105.6,2733.0 105.6,2716.0 110.9,2679.4 121.6,2687.0 121.6,2670.0 123.7,2650.6 122.6,2634.6 134.4,2643.2 135.4,2628.2 141.8,2634.6 142.9,2605.8 144.0,2590.9 149.3,2594.1 150.4,2564.3 160.0,2570.7 163.2,2559.7 164.8,2523.0 171.5,2503.1 174.8,2469.8 183.1,2451.5 196.5,2449.8 216.4,2464.8 229.7,2438.2 243.1,2433.2 259.7,2446.5 264.7,2424.9 281.4,2429.9 288.0,2409.9 303.0,2419.9 319.6,2414.9 359.6,2448.2 369.6,2439.8 386.2,2443.2 402.9,2448.2 452.8,2479.8 519.4,2529.7 545.0,2546.0 581.5,2576.2 591.8,2579.6 636.8,2614.2 643.7,2612.5 661.0,2624.5 678.3,2634.9 686.9,2633.2 744.0,2678.1 761.2,2679.9 768.1,2685.0 775.0,2676.4 795.8,2693.7 802.7,2692.0 847.6,2730.0 854.6,2717.2 877.0,2736.9 892.6,2730.0 951.3,2776.6 958.3,2759.4 982.5,2778.4 992.8,2762.8 1023.9,2787.0 1027.4,2771.5 1046.4,2788.7 1048.1,2769.7 1075.8,2792.2" fill="none" stroke="#00f800" stroke-width="10" stroke-linejoin="round" stroke-linecap="round"/>
<text transform="translate(79.28,2390.00) scale(1.0000,1)" font-size="85.93" font-weight="bold" fill="#000">d</text>
<text transform="translate(371.59,2378.80) scale(0.9709,1)" font-size="60.44" fill="#111">Protein</text>
<text transform="translate(580.19,2378.80) scale(0.9709,1)" font-size="59.67" fill="#111">secretion</text>
<text transform="translate(759.93,2476.00) scale(0.9524,1)" font-size="54.63" fill="#111">NES 2.24</text>
<text transform="translate(760.82,2562.50) scale(0.9524,1)" font-size="54.74" fill="#111">FDR 0.00</text>
<rect x="1124" y="2389.7" width="60" height="603.3000000000002" fill="#ebe8d8"/>
<rect x="1124" y="2389.7" width="5" height="603.3000000000002" fill="#f6f2e0"/>
<rect x="1185.5" y="2390.5" width="1001.5" height="601.5" fill="#ffffff"/>
<line x1="1280" y1="2392.5" x2="1280" y2="2810.9" stroke="#ebebeb" stroke-width="3.5" stroke-dasharray="5 4.5"/>
<line x1="1377.6" y1="2392.5" x2="1377.6" y2="2810.9" stroke="#ebebeb" stroke-width="3.5" stroke-dasharray="5 4.5"/>
<line x1="1473.2" y1="2392.5" x2="1473.2" y2="2810.9" stroke="#ebebeb" stroke-width="3.5" stroke-dasharray="5 4.5"/>
<line x1="1568.8" y1="2392.5" x2="1568.8" y2="2810.9" stroke="#ebebeb" stroke-width="3.5" stroke-dasharray="5 4.5"/>
<line x1="1665.6" y1="2392.5" x2="1665.6" y2="2810.9" stroke="#ebebeb" stroke-width="3.5" stroke-dasharray="5 4.5"/>
<line x1="1761.4" y1="2392.5" x2="1761.4" y2="2810.9" stroke="#ebebeb" stroke-width="3.5" stroke-dasharray="5 4.5"/>
<line x1="1856.9" y1="2392.5" x2="1856.9" y2="2810.9" stroke="#ebebeb" stroke-width="3.5" stroke-dasharray="5 4.5"/>
<line x1="1954.5" y1="2392.5" x2="1954.5" y2="2810.9" stroke="#ebebeb" stroke-width="3.5" stroke-dasharray="5 4.5"/>
<line x1="2050" y1="2392.5" x2="2050" y2="2810.9" stroke="#ebebeb" stroke-width="3.5" stroke-dasharray="5 4.5"/>
<line x1="2144.8" y1="2392.5" x2="2144.8" y2="2810.9" stroke="#ebebeb" stroke-width="3.5" stroke-dasharray="5 4.5"/>
<line x1="1188.5" y1="2676.3" x2="2187" y2="2676.3" stroke="#ebebeb" stroke-width="3.5" stroke-dasharray="5 4.5"/>
<line x1="1188.5" y1="2597.1" x2="2187" y2="2597.1" stroke="#ebebeb" stroke-width="3.5" stroke-dasharray="5 4.5"/>
<line x1="1188.5" y1="2517.9" x2="2187" y2="2517.9" stroke="#ebebeb" stroke-width="3.5" stroke-dasharray="5 4.5"/>
<line x1="1188.5" y1="2438.7" x2="2187" y2="2438.7" stroke="#ebebeb" stroke-width="3.5" stroke-dasharray="5 4.5"/>
<line x1="1185.5" y1="2390.5" x2="2187" y2="2390.5" stroke="#dedbd0" stroke-width="3"/>
<line x1="1185.5" y1="2755.5" x2="2187" y2="2755.5" stroke="#a8a8a8" stroke-width="3.5"/>
<line x1="1185.5" y1="2812.9" x2="2187" y2="2812.9" stroke="#c4c4c4" stroke-width="3.5"/>
<line x1="1185.5" y1="2954" x2="2187" y2="2954" stroke="#cccccc" stroke-width="2.5"/>
<line x1="1185.5" y1="2390.5" x2="1185.5" y2="2992" stroke="#a0a0a0" stroke-width="3"/>
<line x1="1178.5" y1="2755.5" x2="1185.5" y2="2755.5" stroke="#8a8a8a" stroke-width="3"/>
<text x="1169.8" y="2764.3" text-anchor="end" font-size="25" font-weight="bold" fill="#4d4d4d">0.0</text>
<line x1="1178.5" y1="2676.3" x2="1185.5" y2="2676.3" stroke="#8a8a8a" stroke-width="3"/>
<text x="1169.8" y="2685.1" text-anchor="end" font-size="25" font-weight="bold" fill="#4d4d4d">0.1</text>
<line x1="1178.5" y1="2597.1" x2="1185.5" y2="2597.1" stroke="#8a8a8a" stroke-width="3"/>
<text x="1169.8" y="2605.9" text-anchor="end" font-size="25" font-weight="bold" fill="#4d4d4d">0.2</text>
<line x1="1178.5" y1="2517.9" x2="1185.5" y2="2517.9" stroke="#8a8a8a" stroke-width="3"/>
<text x="1169.8" y="2526.7" text-anchor="end" font-size="25" font-weight="bold" fill="#4d4d4d">0.3</text>
<line x1="1178.5" y1="2438.7" x2="1185.5" y2="2438.7" stroke="#8a8a8a" stroke-width="3"/>
<text x="1169.8" y="2447.5" text-anchor="end" font-size="25" font-weight="bold" fill="#4d4d4d">0.4</text>
<rect x="1193" y="2819" width="8.0" height="134.5" fill="#777"/>
<rect x="1208.2" y="2819" width="3.7" height="134.5" fill="#666"/>
<rect x="1211.9" y="2819" width="4.3" height="134.5" fill="#bbb"/>
<rect x="1216.2" y="2819" width="3.7" height="134.5" fill="#888"/>
<rect x="1219.9" y="2819" width="4.3" height="134.5" fill="#bbb"/>
<rect x="1224.2" y="2819" width="3.7" height="134.5" fill="#888"/>
<rect x="1227.9" y="2819" width="4.3" height="134.5" fill="#333"/>
<rect x="1232.2" y="2819" width="3.6" height="134.5" fill="#777"/>
<rect x="1235.8" y="2819" width="3.7" height="134.5" fill="#222"/>
<rect x="1239.5" y="2819" width="10.2" height="134.5" fill="#888"/>
<rect x="1257.6" y="2819" width="5.1" height="134.5" fill="#222"/>
<rect x="1262.7" y="2819" width="3.7" height="134.5" fill="#ccc"/>
<rect x="1266.4" y="2819" width="5.0" height="134.5" fill="#777"/>
<rect x="1283.1" y="2819" width="8.7" height="134.5" fill="#777"/>
<rect x="1291.8" y="2819" width="2.2" height="134.5" fill="#ccc"/>
<rect x="1294" y="2819" width="5.0" height="134.5" fill="#777"/>
<rect x="1307.8" y="2819" width="5.1" height="134.5" fill="#777"/>
<rect x="1317.2" y="2819" width="4.4" height="134.5" fill="#777"/>
<rect x="1321.6" y="2819" width="3.6" height="134.5" fill="#ccc"/>
<rect x="1325.2" y="2819" width="4.4" height="134.5" fill="#888"/>
<rect x="1347.7" y="2819" width="11.6" height="134.5" fill="#808080"/>
<rect x="1359.3" y="2819" width="7.3" height="134.5" fill="#000"/>
<rect x="1366.6" y="2819" width="5.1" height="134.5" fill="#ccc"/>
<rect x="1371.7" y="2819" width="8.0" height="134.5" fill="#777"/>
<rect x="1400" y="2819" width="11.6" height="134.5" fill="#000"/>
<rect x="1427.3" y="2819" width="5.8" height="134.5" fill="#333"/>
<rect x="1436" y="2819" width="5.8" height="134.5" fill="#888"/>
<rect x="1449.8" y="2819" width="5.1" height="134.5" fill="#777"/>
<rect x="1462.1" y="2819" width="5.8" height="134.5" fill="#1a1a1a"/>
<rect x="1478.1" y="2819" width="3.6" height="134.5" fill="#777"/>
<rect x="1481.7" y="2819" width="3.7" height="134.5" fill="#bbb"/>
<rect x="1485.4" y="2819" width="4.3" height="134.5" fill="#888"/>
<rect x="1499.2" y="2819" width="6.5" height="134.5" fill="#666"/>
<rect x="1505.7" y="2819" width="3.6" height="134.5" fill="#444"/>
<rect x="1515.2" y="2819" width="5.0" height="134.5" fill="#777"/>
<rect x="1563.8" y="2819" width="5.1" height="134.5" fill="#777"/>
<rect x="1574" y="2819" width="5.8" height="134.5" fill="#000"/>
<rect x="1579.8" y="2819" width="4.4" height="134.5" fill="#bbb"/>
<rect x="1584.2" y="2819" width="5.1" height="134.5" fill="#1a1a1a"/>
<rect x="1589.3" y="2819" width="2.9" height="134.5" fill="#bbb"/>
<rect x="1592.2" y="2819" width="5.0" height="134.5" fill="#777"/>
<rect x="1610.3" y="2819" width="5.1" height="134.5" fill="#777"/>
<rect x="1619.8" y="2819" width="5.0" height="134.5" fill="#777"/>
<rect x="1633.6" y="2819" width="5.1" height="134.5" fill="#777"/>
<rect x="1652.5" y="2819" width="5.8" height="134.5" fill="#777"/>
<rect x="1670.6" y="2819" width="3.8" height="134.5" fill="#111"/>
<rect x="1697.3" y="2819" width="3.6" height="134.5" fill="#777"/>
<rect x="1715.8" y="2819" width="3.6" height="134.5" fill="#777"/>
<rect x="1730.1" y="2819" width="3.6" height="134.5" fill="#777"/>
<rect x="1755.7" y="2819" width="3.6" height="134.5" fill="#777"/>
<rect x="1780.9" y="2819" width="3.6" height="134.5" fill="#777"/>
<rect x="1791.1" y="2819" width="3.6" height="134.5" fill="#777"/>
<rect x="1826.1" y="2819" width="4.0" height="134.5" fill="#111"/>
<rect x="1855.5" y="2819" width="3.6" height="134.5" fill="#777"/>
<rect x="1887.1" y="2819" width="4.0" height="134.5" fill="#111"/>
<rect x="1904.4" y="2819" width="3.6" height="134.5" fill="#777"/>
<rect x="1988" y="2819" width="3.6" height="134.5" fill="#777"/>
<rect x="2043" y="2819" width="4.5" height="134.5" fill="#888"/>
<rect x="2047.5" y="2819" width="4.0" height="134.5" fill="#444"/>
<rect x="2055.8" y="2819" width="3.6" height="134.5" fill="#777"/>
<rect x="2076.5" y="2819" width="3.6" height="134.5" fill="#777"/>
<rect x="2087.8" y="2819" width="3.6" height="134.5" fill="#777"/>
<rect x="2127.3" y="2819" width="3.6" height="134.5" fill="#777"/>
<rect x="2141.6" y="2819" width="3.6" height="134.5" fill="#777"/>
<rect x="1185" y="2955.5" width="8.3" height="36.5" fill="#ff0000"/>
<rect x="1193" y="2955.5" width="37.3" height="36.5" fill="#ff2a2a"/>
<rect x="1230" y="2955.5" width="30.3" height="36.5" fill="#ff3838"/>
<rect x="1260" y="2955.5" width="83.3" height="36.5" fill="#ff4848"/>
<rect x="1343" y="2955.5" width="68.3" height="36.5" fill="#ff6272"/>
<rect x="1411" y="2955.5" width="82.0" height="36.5" fill="#ff7878"/>
<rect x="1492.7" y="2955.5" width="98.3" height="36.5" fill="#ffb2de"/>
<rect x="1590.7" y="2955.5" width="83.0" height="36.5" fill="#d2d0fa"/>
<rect x="1673.4" y="2955.5" width="118.9" height="36.5" fill="#c8c0fa"/>
<rect x="1792" y="2955.5" width="118.9" height="36.5" fill="#8888ff"/>
<rect x="1910.6" y="2955.5" width="167.1" height="36.5" fill="#7155ee"/>
<rect x="2077.4" y="2955.5" width="51.9" height="36.5" fill="#2400cc"/>
<rect x="2129" y="2955.5" width="21.0" height="36.5" fill="#5000b0"/>
<polyline points="1185.4,2755.7 1185.8,2720.9 1194.2,2722.2 1194.2,2701.6 1199.3,2702.9 1199.3,2656.5 1210.9,2665.5 1210.9,2647.5 1218.6,2650.0 1218.6,2630.7 1227.7,2620.4 1229.0,2586.9 1234.1,2570.2 1238.0,2554.7 1240.5,2540.5 1245.7,2531.5 1248.3,2517.4 1258.6,2527.7 1261.2,2501.9 1268.9,2491.6 1281.8,2505.8 1290.8,2486.4 1297.0,2478.0 1309.0,2490.0 1314.0,2468.0 1329.2,2442.2 1349.5,2459.2 1361.4,2445.6 1378.3,2413.4 1400.3,2432.0 1412.2,2410.0 1425.8,2421.9 1439.3,2416.8 1463.1,2430.3 1480.0,2433.7 1500.0,2447.2 1509.0,2449.0 1521.8,2455.4 1536.3,2468.1 1550.8,2481.7 1569.0,2496.3 1587.2,2509.0 1609.0,2527.1 1630.7,2543.5 1648.9,2558.0 1667.1,2568.9 1674.3,2566.2 1694.3,2585.2 1716.1,2598.0 1732.4,2607.0 1754.2,2623.4 1779.6,2637.9 1794.9,2642.0 1824.7,2665.6 1830.9,2659.4 1856.9,2678.0 1861.9,2676.8 1885.5,2696.7 1890.4,2686.7 1905.3,2696.7 1907.8,2691.7 1958.7,2736.4 1988.5,2758.7 1993.5,2752.5 2040.6,2793.5 2055.5,2757.5 2075.4,2772.4 2080.3,2763.7 2089.0,2767.4 2092.7,2753.7 2127.5,2783.5 2130.0,2762.4 2143.6,2777.3 2144.9,2752.5 2151.1,2753.7" fill="none" stroke="#00f800" stroke-width="10" stroke-linejoin="round" stroke-linecap="round"/>
<text transform="translate(1163.25,2377.00) scale(1.0000,1)" font-size="80.76" font-weight="bold" fill="#000">e</text>
<text transform="translate(1328.72,2378.80) scale(0.9709,1)" font-size="59.78" fill="#111">Unfolded</text>
<text transform="translate(1585.99,2378.80) scale(0.9709,1)" font-size="59.27" fill="#111">protein</text>
<text transform="translate(1787.76,2378.80) scale(0.9709,1)" font-size="59.49" fill="#111">response</text>
<text transform="translate(1830.81,2468.00) scale(0.9524,1)" font-size="54.88" fill="#111">NES 1.97</text>
<text transform="translate(1831.63,2556.00) scale(0.9524,1)" font-size="54.72" fill="#111">FDR 0.00</text>
<rect x="32" y="1609" width="2162" height="666" fill="none" stroke="#2a2a2a" stroke-width="4.5"/>
<rect x="30" y="2329" width="2164" height="665" fill="none" stroke="#2a2a2a" stroke-width="4.5"/>
</svg>
</body></html>
